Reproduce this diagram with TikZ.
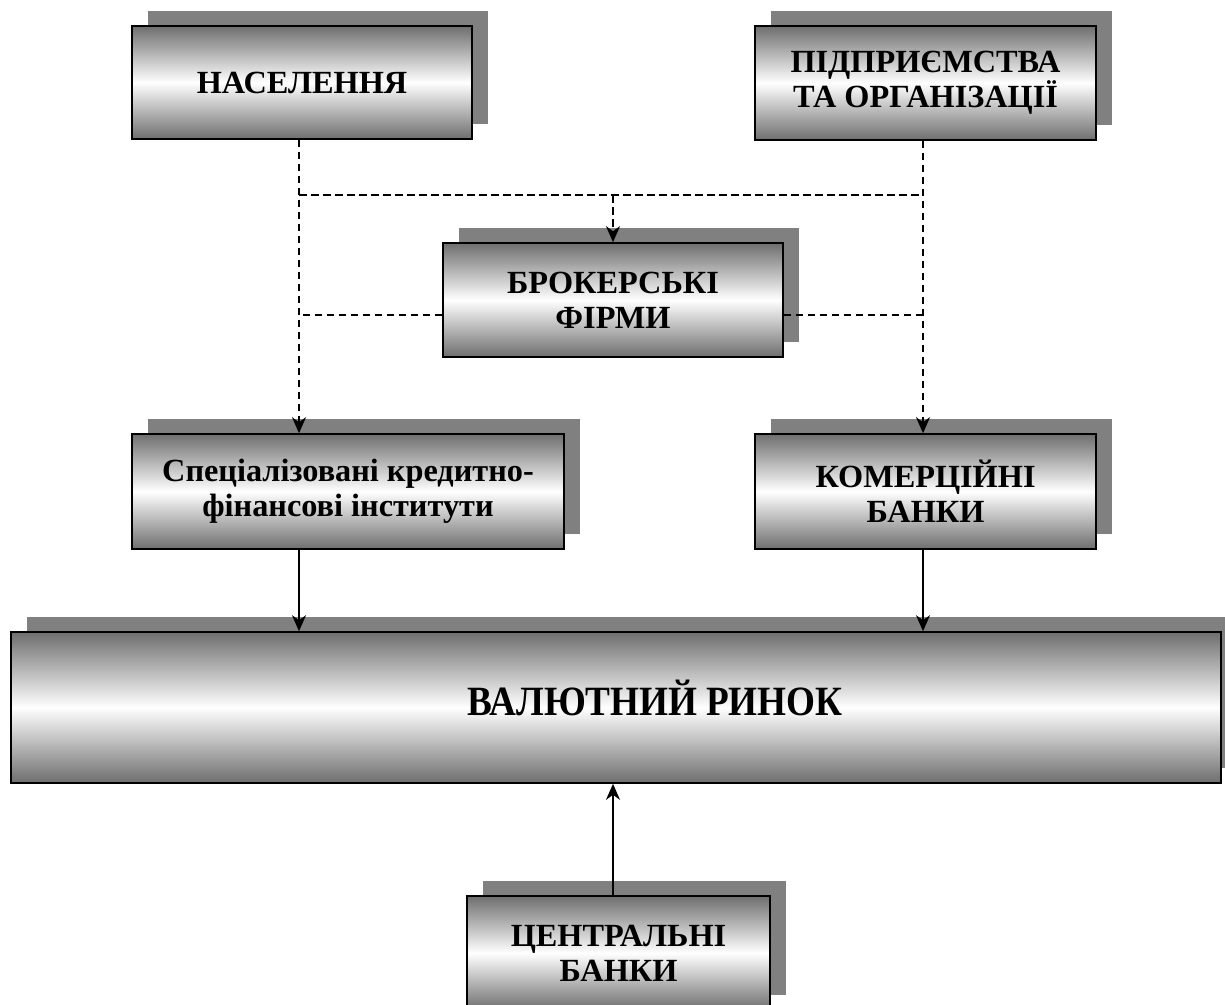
\documentclass[tikz,border=0pt]{standalone}
\usepackage{fontspec}
\usepackage{graphicx}
\setmainfont{Liberation Serif}
\usetikzlibrary{arrows.meta,shadows,calc}
\definecolor{shadowgray}{HTML}{808080}
\definecolor{edgegray}{HTML}{6E6E6E}
\tikzset{
  box/.style={draw=black, line width=1.6pt, top color=edgegray, bottom color=edgegray, middle color=white,
    drop shadow={opacity=1, fill=shadowgray, shadow xshift=15.5pt, shadow yshift=15pt},
    align=center, inner sep=0pt, font=\bfseries\fontsize{32.3}{35}\selectfont},
  dl/.style={line width=1.8pt, dash pattern=on 7.5pt off 4.5pt},
  sl/.style={line width=1.4pt},
  tip/.style={-{Stealth[length=16pt,width=14pt,inset=5pt]}}
}
\begin{document}
\begin{tikzpicture}[x=1pt,y=-1pt]
\useasboundingbox (0,0) rectangle (1225,1004);
\node[box, minimum width=340pt, minimum height=113pt] (nas) at (302,82.5) {НАСЕЛЕННЯ};
\node[box, minimum width=341pt, minimum height=114pt] (pid) at (925.5,83) {ПІДПРИЄМСТВА\\ТА ОРГАНІЗАЦІЇ};
\node[box, minimum width=340pt, minimum height=114pt] (brok) at (613,300) {БРОКЕРСЬКІ\\ФІРМИ};
\node[box, minimum width=432pt, minimum height=115pt] (spec) at (348,491.5) {Спеціалізовані кредитно-\\фінансові інститути};
\node[box, minimum width=341pt, minimum height=115pt] (kom) at (925.5,491.5) {КОМЕРЦІЙНІ\\БАНКИ};
\node[box, minimum width=1210pt, minimum height=151pt, font=\bfseries\fontsize{37.2}{40}\selectfont] (val) at (616,707.5) {\hspace*{78pt}\raisebox{-7.8pt}[0pt][0pt]{\scalebox{1}[1.12]{ВАЛЮТНИЙ РИНОК}}};
\node[box, minimum width=303pt, minimum height=114pt] (cen) at (618.5,953) {ЦЕНТРАЛЬНІ\\БАНКИ};

\coordinate (xl) at (299,0);
\coordinate (xr) at (923,0);
\coordinate (ytop) at (0,195);
\coordinate (ymid) at (0,315);

\draw[dl,tip] (nas.south -| xl) -- (spec.north -| xl);
\draw[dl,tip] (pid.south -| xr) -- (kom.north -| xr);
\draw[dl] (ytop -| xl) -- (ytop -| xr);
\draw[dl,tip] (ytop -| brok.north) -- (brok.north);
\draw[dl] (ymid -| brok.west) -- (ymid -| xl);
\draw[dl] (ymid -| brok.east) -- (ymid -| xr);

\draw[sl,tip] (spec.south -| xl) -- (val.north -| xl);
\draw[sl,tip] (kom.south -| xr) -- (val.north -| xr);
\draw[sl,tip] (cen.north -| brok.south) -- (val.south -| brok.south);
\end{tikzpicture}
\end{document}
